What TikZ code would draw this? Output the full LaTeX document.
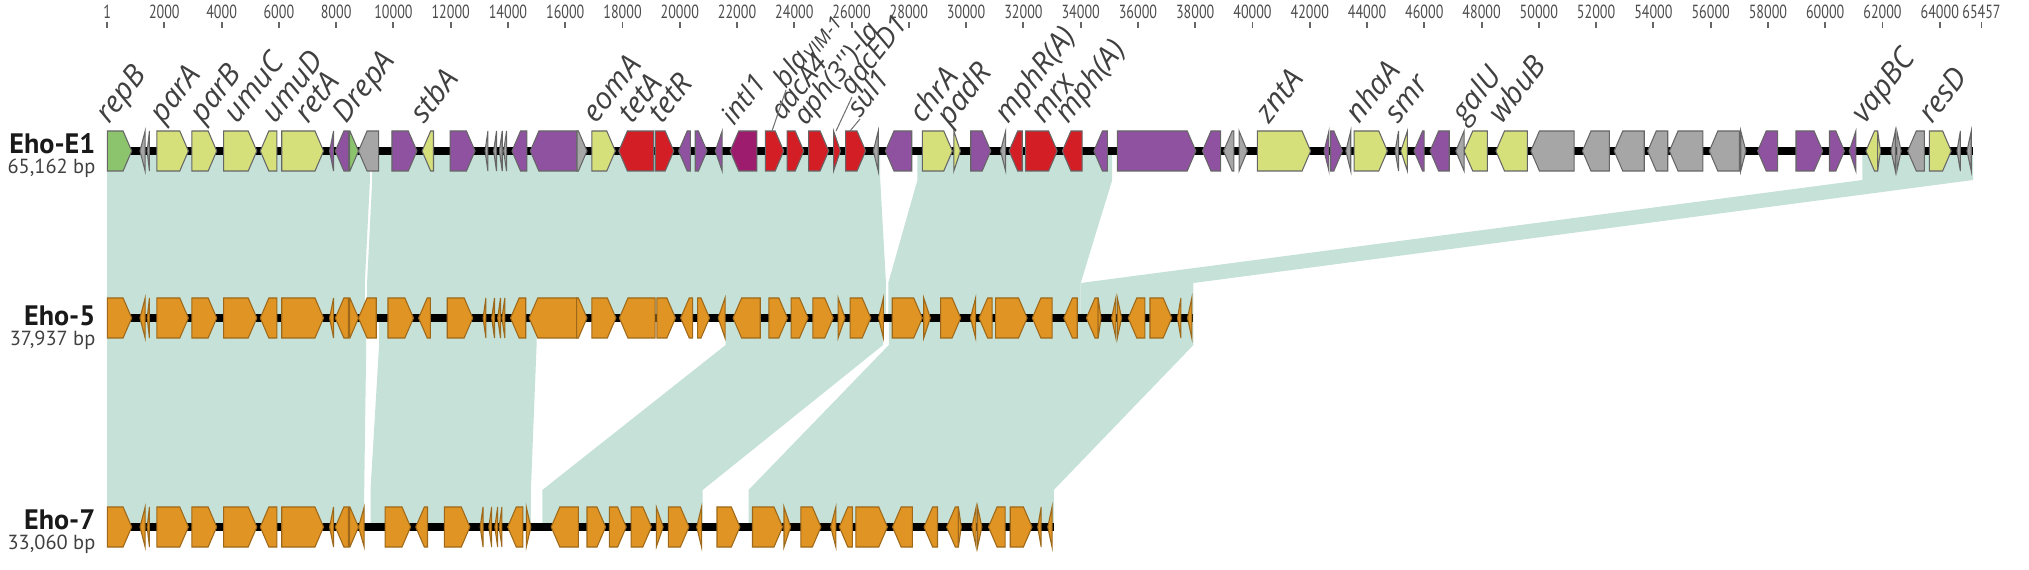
\documentclass[tikz,border=0pt]{standalone}
\usepackage{fontspec}
\setmainfont{PT Sans}
\newfontfamily\labfont{Open Sans}
\newfontfamily\numfont[FakeStretch=0.74]{PT Sans}
\definecolor{homc}{RGB}{197,225,216}
\definecolor{gyel}{RGB}{214,224,122}
\definecolor{gpur}{RGB}{143,82,160}
\definecolor{gred}{RGB}{212,30,38}
\definecolor{gmag}{RGB}{158,28,110}
\definecolor{ggry}{RGB}{166,166,166}
\definecolor{ggrn}{RGB}{140,196,110}
\definecolor{gorg}{RGB}{224,148,36}
\newcommand\gn[4]{%
  \pgfmathsetmacro\gA{#1}\pgfmathsetmacro\gB{#2}%
  \pgfmathsetmacro\gH{min(0.3,#2-#1)}%
  \if R#3
    \path[genestyle,fill=#4] ({\gA},{\ty-20}) -- ({\gB-\gH},{\ty-20}) -- ({\gB},{\ty}) -- ({\gB-\gH},{\ty+20}) -- ({\gA},{\ty+20}) -- cycle;
  \else
    \path[genestyle,fill=#4] ({\gB},{\ty-20}) -- ({\gA+\gH},{\ty-20}) -- ({\gA},{\ty}) -- ({\gA+\gH},{\ty+20}) -- ({\gB},{\ty+20}) -- cycle;
  \fi}
\newcommand\blk[8]{\fill[homc] (#1,#5) -- (#2,#5) -- (#2,#6) -- (#4,#7) -- (#4,#8) -- (#3,#8) -- (#3,#7) -- (#1,#6) -- cycle;}
\tikzset{
  genestyle/.style={draw=black!60,line width=0.3pt,line join=miter},
  bb/.style={line width=0.075cm,black},
  tick/.style={draw=black!60,line width=0.55pt},
  num/.style={font=\numfont\fontsize{5.4}{6}\selectfont,text=black!70,inner sep=0pt},
  glab/.style={rotate=52,anchor=base west,font=\labfont\fontsize{8.5}{10}\selectfont\itshape,text=black!75,inner sep=0pt},
  clab/.style={glab,font=\labfont\fontsize{7.8}{9}\selectfont\itshape},
  tname/.style={anchor=base east,font=\fontsize{8}{9}\selectfont\bfseries,text=black!90,inner sep=0pt},
  tlen/.style={anchor=base east,font=\fontsize{5.8}{7}\selectfont,text=black!75,inner sep=0pt},
  lead/.style={draw=black!55,line width=0.3pt}
}
\begin{document}
\begin{tikzpicture}[x=0.01cm,y=-0.01cm]
\useasboundingbox (0,0) rectangle (2029,570);
\begin{scope}[xshift=1.07cm,x=0.2862cm]
% homology blocks E1 -> Eho-5
\blk{0}{9.18}{0}{9.0}{151}{180}{283}{318}
\blk{9.26}{27.0}{9.08}{27.2}{151}{180}{283}{318}
\blk{28.3}{35.1}{27.28}{34.0}{151}{180}{283}{318}
\blk{61.3}{65.162}{34.0}{37.937}{151}{180}{283}{318}
% homology blocks Eho-5 -> Eho-7
\blk{0}{9.05}{0}{8.98}{318}{345}{490}{527}
\blk{9.5}{15.0}{9.2}{14.8}{318}{345}{490}{527}
\blk{21.6}{27.1}{15.2}{20.8}{318}{345}{490}{527}
\blk{27.3}{37.937}{22.4}{33.06}{318}{345}{490}{527}
% scale
\draw[tick] (0.001,22) -- (0.001,28);
\node[num] (n0) at (0.001,12) {1};
\foreach \k in {2,4,...,64} {\draw[tick] (\k,22) -- (\k,28); \node[num] (n\k) at (\k,12) {\k000};}
\draw[tick] (65.457,22) -- (65.457,28);
\node[num] (nend) at (65.457,12) {65457};
% backbones
\draw[bb] (0,151) -- (65.162,151);
\draw[bb] (0,318) -- (37.937,318);
\draw[bb] (0,527) -- (33.06,527);
% Eho-E1 genes
\def\ty{151}
\gn{0.01}{0.86}{R}{ggrn}
\gn{1.15}{1.33}{L}{ggry}
\gn{1.40}{1.48}{L}{ggry}
\gn{1.74}{2.84}{R}{gyel}
\gn{2.96}{3.83}{R}{gyel}
\gn{4.07}{5.23}{R}{gyel}
\gn{5.35}{5.93}{L}{gyel}
\gn{6.10}{7.56}{R}{gyel}
\gn{7.77}{7.91}{L}{gpur}
\gn{7.97}{8.43}{L}{gpur}
\gn{8.47}{8.78}{R}{ggrn}
\gn{8.78}{9.48}{L}{ggry}
\gn{9.95}{10.82}{R}{gpur}
\gn{11.0}{11.4}{L}{gyel}
\gn{11.98}{12.85}{R}{gpur}
\gn{13.2}{13.3}{L}{ggry}
\gn{13.5}{13.6}{L}{ggry}
\gn{13.7}{13.8}{L}{ggry}
\gn{13.85}{13.95}{L}{ggry}
\gn{14.14}{14.66}{L}{gpur}
\gn{14.78}{16.41}{L}{gpur}
\gn{16.41}{16.76}{R}{ggry}
\gn{16.93}{17.75}{R}{gyel}
\gn{17.87}{19.09}{L}{gred}
\gn{19.15}{19.79}{R}{gred}
\gn{19.96}{20.37}{L}{gpur}
\gn{20.54}{20.95}{R}{gpur}
\gn{21.24}{21.48}{L}{gpur}
\gn{21.76}{22.69}{L}{gmag}
\gn{22.99}{23.63}{R}{gred}
\gn{23.75}{24.33}{R}{gred}
\gn{24.5}{25.2}{R}{gred}
\gn{25.37}{25.61}{R}{gred}
\gn{25.79}{26.49}{R}{gred}
\gn{26.76}{26.93}{L}{ggry}
\gn{27.18}{28.1}{L}{gpur}
\gn{28.47}{29.52}{R}{gyel}
\gn{29.57}{29.8}{R}{gyel}
\gn{30.16}{30.86}{R}{gpur}
\gn{31.2}{31.38}{L}{ggry}
\gn{31.5}{31.96}{L}{gred}
\gn{32.08}{33.18}{R}{gred}
\gn{33.36}{34.05}{L}{gred}
\gn{34.46}{34.93}{L}{gpur}
\gn{35.28}{38.02}{R}{gpur}
\gn{38.25}{38.89}{L}{gpur}
\gn{38.99}{39.35}{L}{ggry}
\gn{39.53}{39.82}{R}{ggry}
\gn{40.17}{42.03}{R}{gyel}
\gn{42.5}{42.67}{L}{gpur}
\gn{42.73}{43.14}{R}{gpur}
\gn{43.26}{43.43}{L}{ggry}
\gn{43.55}{44.71}{R}{gyel}
\gn{44.98}{45.1}{L}{ggry}
\gn{45.18}{45.41}{L}{gyel}
\gn{45.64}{45.99}{L}{gpur}
\gn{46.2}{46.87}{L}{gpur}
\gn{47.1}{47.39}{L}{ggry}
\gn{47.39}{48.2}{L}{gyel}
\gn{48.5}{49.6}{L}{gyel}
\gn{49.72}{51.23}{L}{ggry}
\gn{51.52}{52.46}{L}{ggry}
\gn{52.63}{53.68}{L}{ggry}
\gn{53.8}{54.5}{L}{ggry}
\gn{54.56}{55.73}{L}{ggry}
\gn{55.95}{57.0}{L}{ggry}
\gn{57.05}{57.23}{R}{ggry}
\gn{57.64}{58.34}{L}{gpur}
\gn{58.98}{59.91}{R}{gpur}
\gn{60.15}{60.67}{R}{gpur}
\gn{60.84}{61.07}{L}{gpur}
\gn{61.42}{61.83}{L}{gyel}
\gn{61.83}{61.93}{R}{gyel}
\gn{62.3}{62.45}{L}{ggry}
\gn{62.5}{62.65}{R}{ggry}
\gn{62.88}{63.46}{L}{ggry}
\gn{63.64}{64.4}{R}{gyel}
\gn{64.6}{64.72}{L}{ggry}
\gn{64.95}{65.1}{L}{ggry}
\begin{scope}[genestyle/.style={draw=gorg!70!black,line width=0.3pt,line join=miter}]
% Eho-5 genes
\def\ty{318}
\gn{0.01}{0.86}{R}{gorg}
\gn{1.15}{1.33}{L}{gorg}
\gn{1.40}{1.48}{L}{gorg}
\gn{1.74}{2.84}{R}{gorg}
\gn{2.96}{3.83}{R}{gorg}
\gn{4.07}{5.23}{R}{gorg}
\gn{5.35}{5.93}{L}{gorg}
\gn{6.10}{7.56}{R}{gorg}
\gn{7.77}{7.91}{L}{gorg}
\gn{7.97}{8.43}{L}{gorg}
\gn{8.47}{8.78}{R}{gorg}
\gn{8.78}{9.4}{L}{gorg}
\gn{9.81}{10.70}{R}{gorg}
\gn{10.88}{11.29}{L}{gorg}
\gn{11.88}{12.77}{R}{gorg}
\gn{13.13}{13.23}{L}{gorg}
\gn{13.43}{13.53}{L}{gorg}
\gn{13.64}{13.74}{L}{gorg}
\gn{13.79}{13.89}{L}{gorg}
\gn{14.09}{14.62}{L}{gorg}
\gn{14.74}{16.40}{L}{gorg}
\gn{16.40}{16.76}{R}{gorg}
\gn{16.93}{17.77}{R}{gorg}
\gn{17.89}{19.14}{L}{gorg}
\gn{19.20}{19.85}{R}{gorg}
\gn{20.03}{20.45}{L}{gorg}
\gn{20.62}{21.04}{R}{gorg}
\gn{21.34}{21.58}{L}{gorg}
\gn{21.86}{22.81}{L}{gorg}
\gn{23.11}{23.76}{R}{gorg}
\gn{23.89}{24.48}{R}{gorg}
\gn{24.65}{25.36}{R}{gorg}
\gn{25.53}{25.77}{R}{gorg}
\gn{25.95}{26.67}{R}{gorg}
\gn{26.94}{27.11}{L}{gorg}
\gn{27.42}{28.47}{R}{gorg}
\gn{28.52}{28.75}{R}{gorg}
\gn{29.11}{29.81}{R}{gorg}
\gn{30.15}{30.33}{L}{gorg}
\gn{30.45}{30.91}{L}{gorg}
\gn{31.03}{32.13}{R}{gorg}
\gn{32.31}{33.0}{L}{gorg}
\gn{33.41}{33.88}{L}{gorg}
\gn{34.2}{34.61}{L}{gorg}
\gn{34.61}{34.71}{R}{gorg}
\gn{35.08}{35.23}{L}{gorg}
\gn{35.28}{35.43}{R}{gorg}
\gn{35.66}{36.24}{L}{gorg}
\gn{36.42}{37.18}{R}{gorg}
\gn{37.38}{37.5}{L}{gorg}
\gn{37.73}{37.88}{L}{gorg}
% Eho-7 genes
\def\ty{527}
\gn{0.01}{0.86}{R}{gorg}
\gn{1.15}{1.33}{L}{gorg}
\gn{1.40}{1.48}{L}{gorg}
\gn{1.74}{2.84}{R}{gorg}
\gn{2.96}{3.83}{R}{gorg}
\gn{4.07}{5.23}{R}{gorg}
\gn{5.35}{5.93}{L}{gorg}
\gn{6.10}{7.56}{R}{gorg}
\gn{7.77}{7.91}{L}{gorg}
\gn{7.97}{8.43}{L}{gorg}
\gn{8.47}{8.78}{R}{gorg}
\gn{8.78}{8.98}{L}{gorg}
\gn{9.71}{10.60}{R}{gorg}
\gn{10.78}{11.19}{L}{gorg}
\gn{11.78}{12.67}{R}{gorg}
\gn{13.03}{13.13}{L}{gorg}
\gn{13.33}{13.43}{L}{gorg}
\gn{13.54}{13.64}{L}{gorg}
\gn{13.69}{13.79}{L}{gorg}
\gn{13.99}{14.52}{L}{gorg}
\gn{14.64}{14.8}{R}{gorg}
\gn{15.51}{16.46}{L}{gorg}
\gn{16.76}{17.41}{R}{gorg}
\gn{17.54}{18.13}{R}{gorg}
\gn{18.30}{19.01}{R}{gorg}
\gn{19.18}{19.42}{R}{gorg}
\gn{19.60}{20.32}{R}{gorg}
\gn{20.59}{20.76}{L}{gorg}
\gn{21.3}{22.1}{R}{gorg}
\gn{22.54}{23.59}{R}{gorg}
\gn{23.64}{23.87}{R}{gorg}
\gn{24.23}{24.93}{R}{gorg}
\gn{25.27}{25.45}{L}{gorg}
\gn{25.57}{26.03}{L}{gorg}
\gn{26.15}{27.25}{R}{gorg}
\gn{27.43}{28.12}{L}{gorg}
\gn{28.53}{29.0}{L}{gorg}
\gn{29.32}{29.73}{L}{gorg}
\gn{29.73}{29.83}{R}{gorg}
\gn{30.2}{30.35}{L}{gorg}
\gn{30.4}{30.55}{R}{gorg}
\gn{30.78}{31.36}{L}{gorg}
\gn{31.54}{32.3}{R}{gorg}
\gn{32.5}{32.62}{L}{gorg}
\gn{32.85}{33.0}{L}{gorg}
\end{scope}
\end{scope}
% track labels
\node[tname] (t1) at (96,154) {Eho-E1};
\node[tlen] (t1l) at (96,174) {65,162 bp};
\node[tname] (t5) at (96,326) {Eho-5};
\node[tlen] (t5l) at (96,346) {37,937 bp};
\node[tname] (t7) at (96,529) {Eho-7};
\node[tlen] (t7l) at (96,550) {33,060 bp};
% gene labels
\node[glab] (l1) at (109,125) {repB};
\node[glab] (l2) at (163,125) {parA};
\node[glab] (l3) at (203,125) {parB};
\node[glab] (l4) at (237,125) {umuC};
\node[glab] (l5) at (275,125) {umuD};
\node[glab] (l6) at (308,125) {retA};
\node[glab] (l7) at (346,125) {DrepA};
\node[glab] (l8) at (424,125) {stbA};
\node[glab] (l9) at (596,125) {eomA};
\node[glab] (l10) at (632,125) {tetA};
\node[glab] (l11) at (662,125) {tetR};
\node[clab] (l12) at (734,127) {intI1};
\node[clab] (l13) at (786,90) {bla\textsubscript{VIM-1}};
\node[clab] (l14) at (783,122) {aacA4};
\node[clab] (l15) at (806,127) {aph(3\textquotesingle\textquotesingle)-Ia};
\node[clab] (l16) at (852,97) {qacED1};
\node[clab] (l17) at (860,119) {sul1};
\node[glab] (l18) at (923,125) {chrA};
\node[glab] (l19) at (950,128) {padR};
\node[glab] (l20) at (1008,125) {mphR(A)};
\node[glab] (l21) at (1044,125) {mrx};
\node[glab] (l22) at (1068,125) {mph(A)};
\node[glab] (l23) at (1269,125) {zntA};
\node[glab] (l24) at (1359,125) {nhaA};
\node[glab] (l25) at (1398,125) {smr};
\node[glab] (l26) at (1465,125) {galU};
\node[glab] (l27) at (1502,125) {wbuB};
\node[glab] (l28) at (1865,125) {vapBC};
\node[glab] (l29) at (1932,125) {resD};
% leader lines
\coordinate (g13) at (772,131);
\coordinate (g16) at (836,131);
\coordinate (g17) at (850,131);
\draw[lead] (g13) -- (l13.base west);
\draw[lead] (g16) -- (l16.base west);
\draw[lead] (g17) -- (l17.base west);
\end{tikzpicture}
\end{document}
